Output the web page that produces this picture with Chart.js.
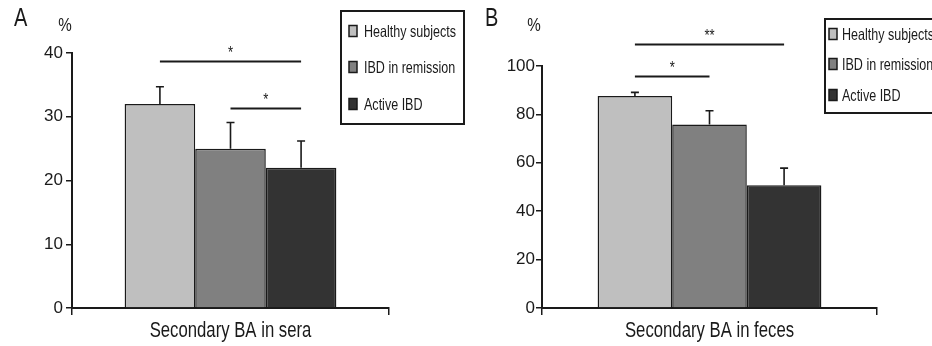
<!DOCTYPE html>
<html>
<head>
<meta charset="utf-8">
<script src="https://cdn.jsdelivr.net/npm/chart.js@4.4.1/dist/chart.umd.min.js"></script>
<style>
  html, body { margin: 0; padding: 0; background: #fff; }
  #wrap { position: relative; width: 932px; height: 346px; overflow: hidden; }
  #chartA { position: absolute; left: 0; top: 0; }
  #chartB { position: absolute; left: 470px; top: 0; }
</style>
</head>
<body>
<div id="wrap">
  <canvas id="chartA" width="470" height="346"></canvas>
  <canvas id="chartB" width="462" height="346"></canvas>
</div>
<script>
// groups (legend) and colours
const groups = ['Healthy subjects', 'IBD in remission', 'Active IBD'];
const groupColors = ['#bfbfbf', '#808080', '#333333'];

// panel A: secondary BA in sera
const seraValues = [32, 25, 22];
const seraErrors = [2.7, 4.1, 4.2];
const seraTicks = [0, 10, 20, 30, 40];
// [from bar, to bar, level, label]
const seraSig = [[0, 2, 38.7, '*'], [1, 2, 31.4, '*']];

// panel B: secondary BA in feces
const fecesValues = [87.6, 75.8, 50.7];
const fecesErrors = [1.5, 5.7, 7.1];
const fecesTicks = [0, 20, 40, 60, 80, 100];
const fecesSig = [[0, 2, 109, '**'], [0, 1, 95.8, '*']];

const sans = "'Liberation Sans', Arial, sans-serif";
const ink = '#1a1a1a';

// the original uses a condensed face, so squeeze the text horizontally
function narrowText(ctx, text, x, y, size, align, sx) {
    ctx.save();
    ctx.font = size + 'px ' + sans;
    ctx.textAlign = align;
    ctx.translate(x, y);
    ctx.scale(sx || 0.77, 1);
    ctx.fillText(text, 0, 0);
    ctx.restore();
}

// error bars, significance bars, legend box, axis title, panel letter
const extras = {
    id: 'extras',
    afterDraw(chart, args, opts) {
        const ctx = chart.ctx;
        const y = chart.scales.y;
        const x = chart.scales.x;
        ctx.save();
        ctx.strokeStyle = ink;
        ctx.fillStyle = ink;

        // error bars (upper whisker only)
        ctx.lineWidth = 1.6;
        opts.errors.forEach((e, i) => {
            const bar = chart.getDatasetMeta(i).data[0];
            const top = y.getPixelForValue(opts.values[i] + e);
            ctx.beginPath();
            ctx.moveTo(bar.x, bar.y);
            ctx.lineTo(bar.x, top);
            ctx.moveTo(bar.x - 4, top);
            ctx.lineTo(bar.x + 4, top);
            ctx.stroke();
        });

        // significance lines
        ctx.lineWidth = 2;
        ctx.textBaseline = 'alphabetic';
        opts.sig.forEach(s => {
            const x1 = chart.getDatasetMeta(s[0]).data[0].x;
            const x2 = chart.getDatasetMeta(s[1]).data[0].x;
            const py = Math.round(y.getPixelForValue(s[2])) + 0.5;
            ctx.beginPath();
            ctx.moveTo(x1, py);
            ctx.lineTo(x2, py);
            ctx.stroke();
            narrowText(ctx, s[3], (x1 + x2) / 2, py - 4, 17, 'center');
        });

        // legend box
        const lg = opts.legend;
        ctx.lineWidth = 2;
        ctx.strokeRect(lg.x, lg.y, lg.w, lg.h);
        ctx.textBaseline = 'middle';
        groups.forEach((g, i) => {
            const cy = lg.rows[i];
            ctx.fillStyle = groupColors[i];
            ctx.fillRect(lg.mx, cy - 5.5, 8, 11);
            ctx.lineWidth = 1.5;
            ctx.strokeRect(lg.mx, cy - 5.5, 8, 11);
            ctx.fillStyle = ink;
            narrowText(ctx, g, lg.tx, cy + 1, 16.5, 'left', 0.76);
        });

        // axis title under the category
        ctx.textBaseline = 'alphabetic';
        narrowText(ctx, chart.data.labels[0], (x.left + x.right) / 2, 337, 22, 'center', 0.76);

        // panel letter and unit
        narrowText(ctx, opts.letter, opts.letterX, 26, 25, 'left', 0.8);
        narrowText(ctx, '%', opts.unitX, 31, 19, 'center', 0.8);
        ctx.restore();
    }
};

function makeChart(id, title, values, errors, ticks, sig, pad, extra) {
    return new Chart(document.getElementById(id), {
        type: 'bar',
        data: {
            labels: [title],
            datasets: groups.map((g, i) => ({
                label: g,
                data: [values[i]],
                backgroundColor: groupColors[i],
                borderColor: ink,
                borderWidth: 1.5,
                categoryPercentage: 0.668,
                barPercentage: 1
            }))
        },
        options: {
            responsive: false,
            animation: false,
            layout: { padding: pad },
            plugins: {
                legend: { display: false },
                tooltip: { enabled: false },
                extras: Object.assign({ values: values, errors: errors, sig: sig }, extra)
            },
            scales: {
                x: {
                    grid: { drawOnChartArea: false, tickLength: 7, color: ink, lineWidth: 1.5 },
                    border: { color: ink, width: 2 },
                    ticks: { display: false },
                    afterFit: s => { s.height = 38; }
                },
                y: {
                    min: ticks[0],
                    max: ticks[ticks.length - 1],
                    afterBuildTicks: s => { s.ticks = ticks.map(v => ({ value: v })); },
                    grid: { drawOnChartArea: false, tickLength: 6, color: ink, lineWidth: 1.5 },
                    border: { color: ink, width: 2 },
                    ticks: { color: ink, padding: extra.tickPad, font: { family: sans, size: 17 } },
                    afterFit: s => { s.width = 72; }
                }
            }
        },
        plugins: [extras]
    });
}

makeChart('chartA', 'Secondary BA in sera', seraValues, seraErrors, seraTicks, seraSig,
    { top: 53, right: 81, left: 0, bottom: 0 },
    { letter: 'A', letterX: 14, unitX: 65, tickPad: 3,
      legend: { x: 341, y: 11, w: 123, h: 113, mx: 349, tx: 364, rows: [31, 67, 104] } });

makeChart('chartB', 'Secondary BA in feces', fecesValues, fecesErrors, fecesTicks, fecesSig,
    { top: 66, right: 55, left: 0, bottom: 0 },
    { letter: 'B', letterX: 15, unitX: 64, tickPad: 1,
      legend: { x: 355, y: 19, w: 140, h: 94, mx: 359, tx: 372, rows: [34, 64, 95] } });
</script>
</body>
</html>
